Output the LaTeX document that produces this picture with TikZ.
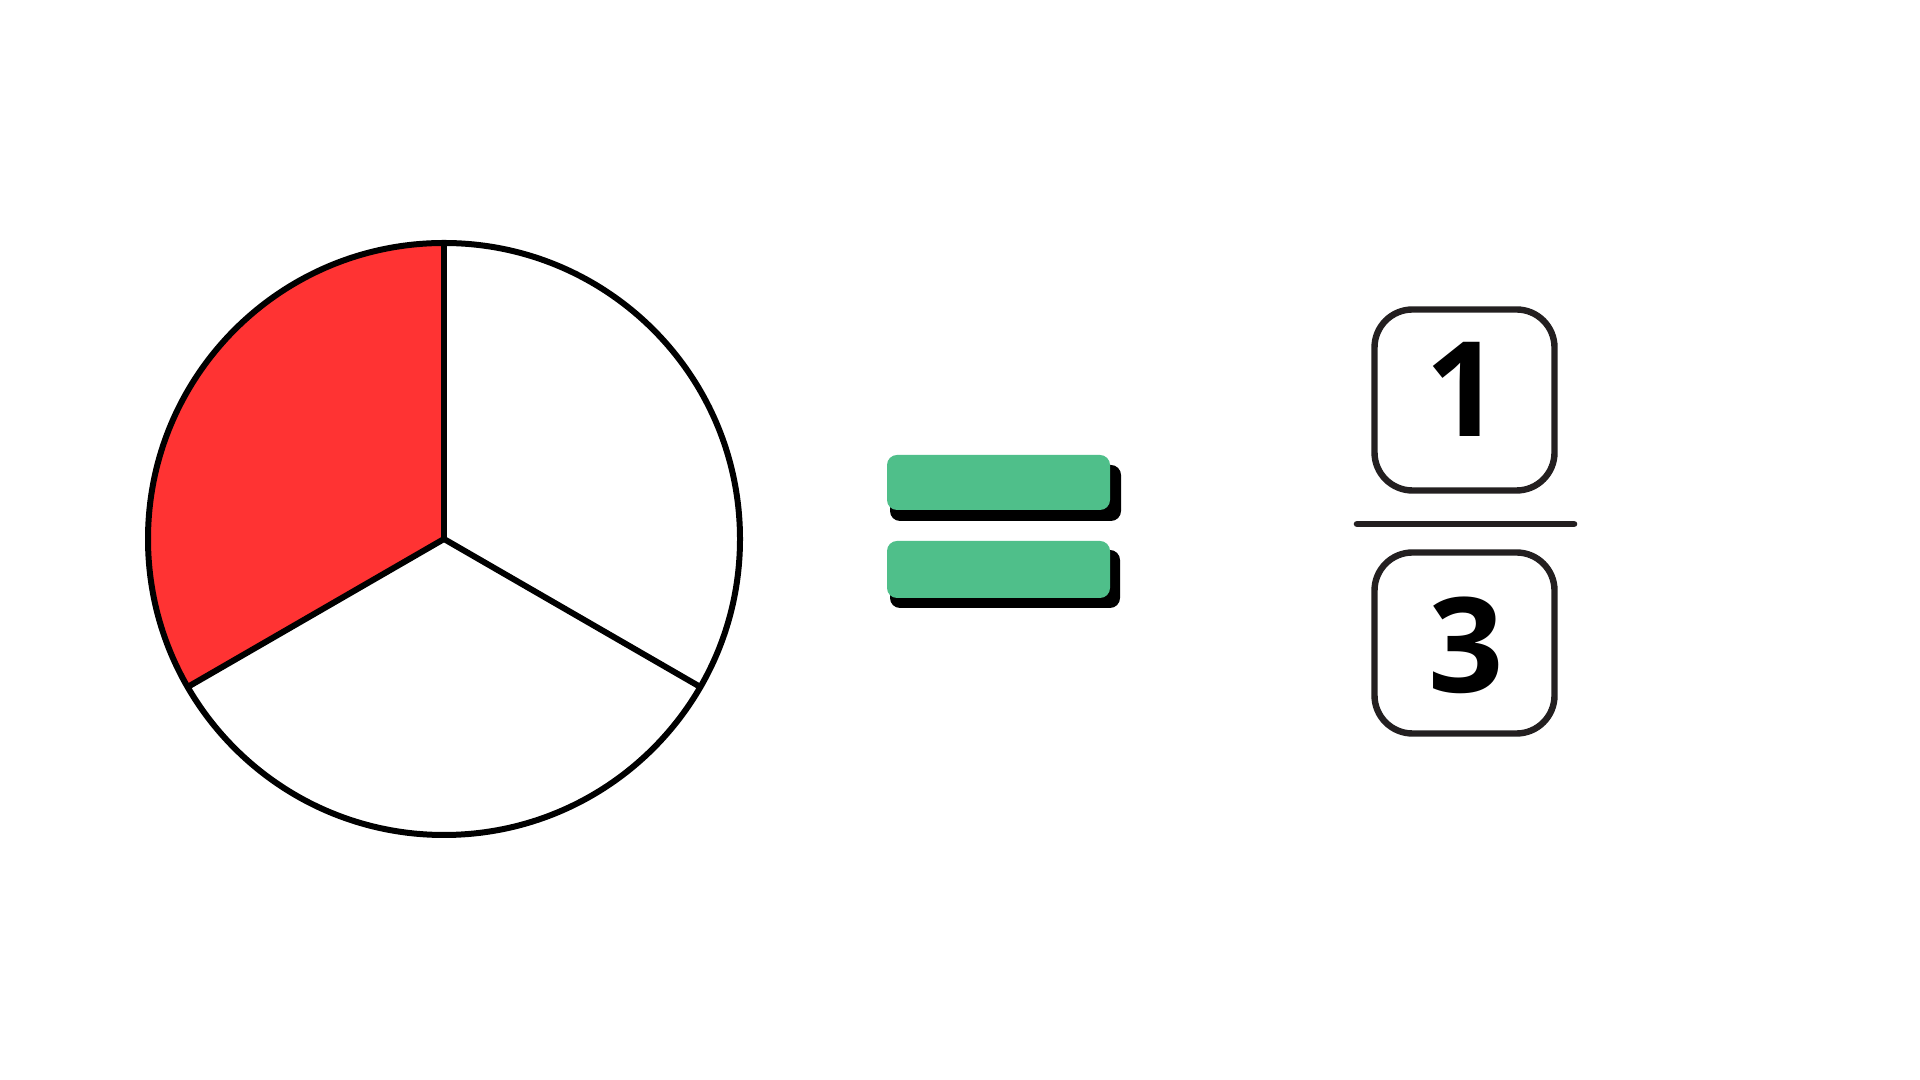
\documentclass[tikz,border=0pt]{standalone}
\usepackage{fontspec}
\setmainfont{Liberation Sans}
\newfontfamily\digitfont{Open Sans}
\definecolor{slicered}{HTML}{FF3333}
\definecolor{eqgreen}{HTML}{4FBF8A}
\definecolor{boxgray}{HTML}{231F20}
\tikzset{
  piestroke/.style={draw=black, line width=3pt, line join=round},
  eqbar/.style={fill=eqgreen, rounded corners=5pt},
  eqshadow/.style={fill=black, rounded corners=5pt},
  digitbox/.style={draw=boxgray, line width=3.2pt, rounded corners=19pt, minimum width=90pt, minimum height=90.5pt, inner sep=0pt},
  digit/.style={font=\digitfont\bfseries\fontsize{66}{66}\selectfont, inner sep=0pt, text=black},
  fracline/.style={draw=boxgray, line width=3.3pt, line cap=round}
}
\begin{document}
\begin{tikzpicture}[x=0.5pt,y=0.5pt]
\path[use as bounding box, fill=white] (0,0) rectangle (1920,1080);
% pie chart
\coordinate (c) at (444,541);
\path (c) ++(90:296) coordinate (ptop);
\path (c) ++(210:296) coordinate (pleft);
\path (c) ++(330:296) coordinate (pright);
\fill[slicered] (c) -- (ptop) arc[start angle=90, end angle=210, radius=296] -- cycle;
\draw[piestroke] (c) circle[radius=296];
\draw[piestroke] (c) -- (ptop);
\draw[piestroke] (c) -- (pleft);
\draw[piestroke] (c) -- (pright);
% equals sign
\path[eqshadow] (890,559) rectangle (1121,615);
\path[eqbar] (887,570) rectangle (1110,625);
\path[eqshadow] (890,472) rectangle (1120,530);
\path[eqbar] (887,482) rectangle (1110,539);
% fraction
\node[digitbox] (numbox) at (1464.5,680) {};
\node[digitbox] (denbox) at (1464.5,437) {};
\node[digit] (num) at (1463,691) {1};
\node[digit] (den) at (1466,435) {3};
\coordinate (fl) at (1357,556);
\coordinate (fr) at (1574,556);
\draw[fracline] (fl) -- (fr);
\end{tikzpicture}
\end{document}
